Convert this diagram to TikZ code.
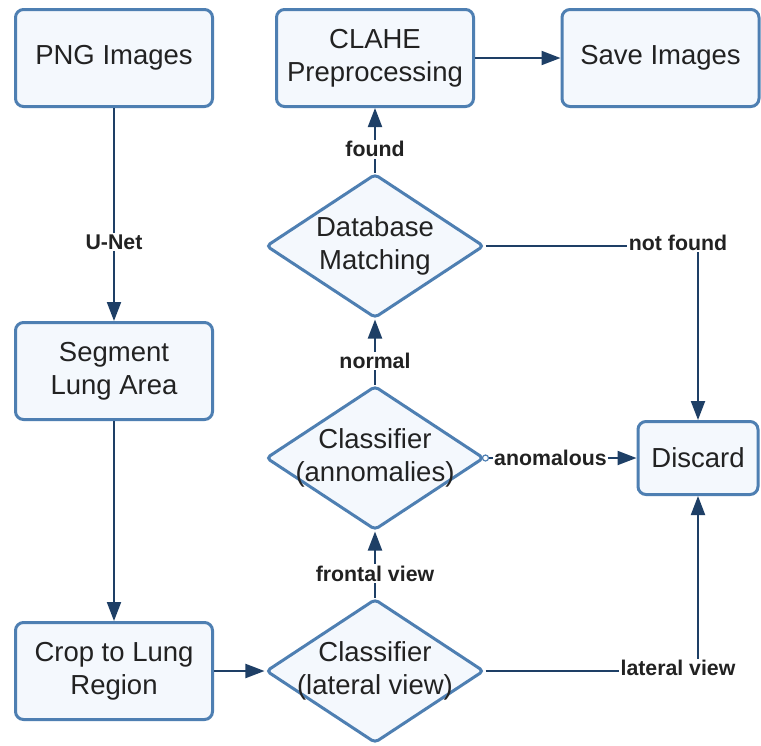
\documentclass[tikz,border=0pt]{standalone}
\usepackage{fontspec}
\setmainfont{Liberation Sans}
\usetikzlibrary{arrows.meta,shapes.geometric}
\definecolor{bordc}{HTML}{4E7FB2}
\definecolor{fillc}{HTML}{F4F8FD}
\definecolor{linec}{HTML}{1E3F66}
\definecolor{txtc}{HTML}{222222}
\tikzset{
  box/.style={draw=bordc, fill=fillc, line width=3pt, rounded corners=8pt,
    minimum width=197pt, minimum height=97pt, align=center, text=txtc,
    font=\fontsize{27.5}{33}\selectfont, inner sep=0pt},
  dia/.style={diamond, draw=bordc, fill=fillc, line width=3pt, rounded corners=4pt,
    minimum width=218pt, minimum height=144pt, inner sep=0pt},
  dtext/.style={align=center, text=txtc, font=\fontsize{27.5}{33}\selectfont, inner sep=0pt},
  conn/.style={draw=linec, line width=2pt, -{Triangle[length=19pt,width=14pt]}},
  lbl/.style={fill=white, text=txtc, inner sep=1.5pt, font=\bfseries\fontsize{21.3}{23}\selectfont},
}
\begin{document}
\begin{tikzpicture}[x=1pt,y=-1pt]
\useasboundingbox[fill=white] (0,0) rectangle (761,745);
% boxes
\node[box] (png) at (114,58) {PNG Images};
\node[box] (seg) at (114,371) {Segment\\Lung Area};
\node[box] (crop) at (114,671) {Crop to Lung\\Region};
\node[box] (clahe) at (375,58) {CLAHE\\Preprocessing};
\node[box] (save) at (660.5,58) {Save Images};
\node[box, minimum width=120pt, minimum height=73pt] (dis) at (698,458) {Discard};
% diamonds
\node[dia] (db) at (375,246) {};
\node[dtext] (dbt) at (db) {Database\\Matching};
\node[dia] (ca) at (375,458) {};
\node[dtext] (cat) at (ca) {Classifier\\(annomalies)};
\node[dia] (cl) at (375,671) {};
\node[dtext] (clt) at (cl) {Classifier\\(lateral view)};
% connectors
\draw[conn] (png) -- node[lbl,pos=0.63]{U-Net} (seg);
\draw[conn] (seg) -- (crop);
\draw[conn] (crop) -- (cl);
\draw[conn] (cl) -- node[lbl,pos=0.36]{frontal view} (ca);
\draw[conn] (ca) -- node[lbl,pos=0.36]{normal} (db);
\draw[conn] (db) -- node[lbl,pos=0.36]{found} (clahe);
\draw[conn] (clahe) -- (save);
\draw[conn] (db.east) -| node[lbl,pos=0.5,xshift=-20pt,yshift=3pt]{not found} (dis.north);
\draw[conn] (ca.east) -- node[lbl,pos=0.43]{anomalous} (dis.west);
\draw[conn] (cl.east) -| node[lbl,pos=0.5,xshift=-20pt,yshift=3pt]{lateral view} (dis.south);
\draw[draw=bordc, line width=1.2pt, fill=white] (ca.east) circle (3pt);
\end{tikzpicture}
\end{document}
